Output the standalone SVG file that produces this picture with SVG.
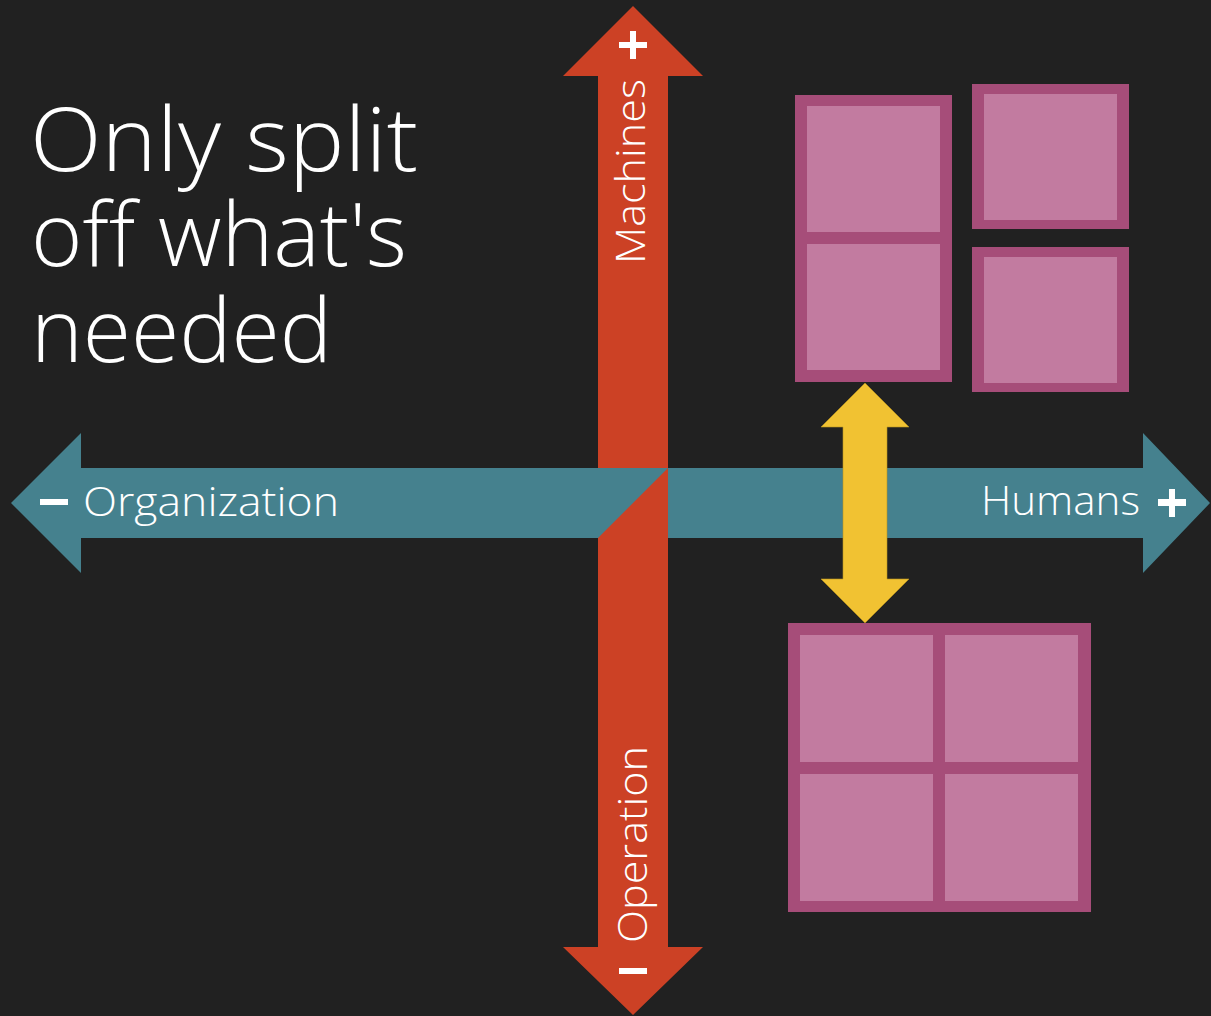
<svg xmlns="http://www.w3.org/2000/svg" width="1211" height="1016" viewBox="0 0 1211 1016">
<style>
.bg{fill:#212121}
.red{fill:#CC4125}
.teal{fill:#45818E}
.yel{fill:#F1C232;stroke:#B8941F;stroke-width:0.6}
.outer{fill:#A64D79}
.inner{fill:#C27BA0}
.mark{fill:#FFFFFF}
.lbl{font-family:"Open Sans","Liberation Sans",sans-serif;font-size:40px;fill:#FFFFFF;font-weight:300}
.title{font-family:"Open Sans","Liberation Sans",sans-serif;font-size:88px;fill:#FFFFFF;font-weight:300}
</style>
<rect class="bg" x="0" y="0" width="1211" height="1016"/>

<g id="title">
<text class="title" x="30" y="171" textLength="388" lengthAdjust="spacingAndGlyphs">Only split</text>
<text class="title" x="31" y="266" textLength="376" lengthAdjust="spacingAndGlyphs">off what's</text>
<text class="title" x="31" y="362" textLength="301" lengthAdjust="spacingAndGlyphs">needed</text>
</g>

<g id="connectors">
<g id="axis-vertical">
<polygon class="red" points="633,6 703,76 668,76 668,947 703,947 633,1015 563,947 598,947 598,76 563,76"/>
</g>
<g id="axis-horizontal">
<polygon class="teal" points="11,503 81,433 81,468 1143,468 1143,433 1210,503 1143,573 1143,538 81,538 81,573"/>
</g>
<polygon class="red" points="668,468 668,538 598,538"/>
<g id="double-arrow">
<polygon class="yel" points="865,383 909,427 887,427 887,579 909,579 865,623 821,579 843,579 843,427 821,427"/>
</g>
</g>

<g id="axis-labels">
<rect class="mark" x="619" y="42" width="28" height="6"/>
<rect class="mark" x="630" y="31" width="6" height="28"/>
<rect class="mark" x="619" y="968" width="28" height="6"/>
<rect class="mark" x="40" y="499" width="28" height="6"/>
<rect class="mark" x="1158" y="499" width="28" height="7"/>
<rect class="mark" x="1169" y="489" width="6" height="28"/>
<text class="lbl" x="83" y="516" textLength="256" lengthAdjust="spacingAndGlyphs">Organization</text>
<text class="lbl" x="981" y="515" textLength="159" lengthAdjust="spacingAndGlyphs">Humans</text>
<text class="lbl" transform="translate(645,264) rotate(-90)" x="0" y="0" textLength="185" lengthAdjust="spacingAndGlyphs">Machines</text>
<text class="lbl" transform="translate(647,943) rotate(-90)" x="0" y="0" textLength="197" lengthAdjust="spacingAndGlyphs">Operation</text>
</g>

<g id="box-left-tall">
<rect class="outer" x="795" y="95" width="157" height="287"/>
<rect class="inner" x="807" y="106" width="133" height="126"/>
<rect class="inner" x="807" y="244" width="133" height="126"/>
</g>
<g id="box-right-top">
<rect class="outer" x="972" y="84" width="157" height="145"/>
<rect class="inner" x="984" y="94" width="133" height="126"/>
</g>
<g id="box-right-bottom">
<rect class="outer" x="972" y="247" width="157" height="145"/>
<rect class="inner" x="984" y="257" width="133" height="126"/>
</g>
<g id="box-grid">
<rect class="outer" x="788" y="623" width="303" height="289"/>
<rect class="inner" x="800" y="635" width="133" height="127"/>
<rect class="inner" x="945" y="635" width="133" height="127"/>
<rect class="inner" x="800" y="774" width="133" height="127"/>
<rect class="inner" x="945" y="774" width="133" height="127"/>
</g>
</svg>
